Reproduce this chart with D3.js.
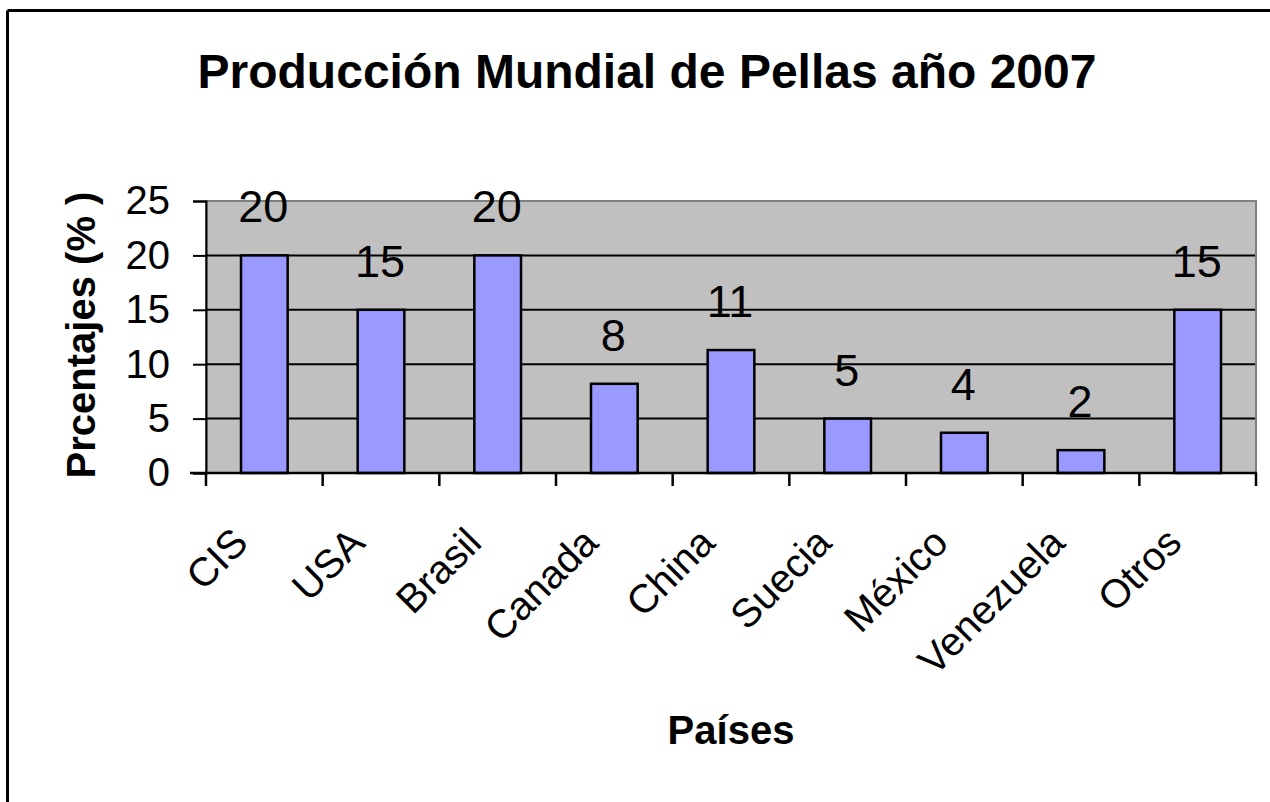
<!DOCTYPE html>
<html>
<head>
<meta charset="utf-8">
<script src="https://cdn.jsdelivr.net/npm/d3@7"></script>
<style>
  body { margin: 0; background: white; }
  text { font-family: Arial, "Liberation Sans", sans-serif; }
</style>
</head>
<body>
<script>
const width = 1270;
const height = 802;

// data
const paises = ["CIS", "USA", "Brasil", "Canada", "China", "Suecia", "México", "Venezuela", "Otros"];
const porcentajes = [20, 15, 20, 8.2, 11.3, 5, 3.7, 2.1, 15];
const yTicks = [0, 5, 10, 15, 20, 25];

const plot = { left: 206, right: 1256, top: 201, bottom: 473 };

const svg = d3
  .select("body")
  .append("svg")
  .attr("width", width)
  .attr("height", height);

svg.append("rect")
  .attr("width", width)
  .attr("height", height)
  .attr("fill", "white");

// outer chart border (only top and left are visible)
svg.append("line")
  .attr("x1", 7.5).attr("y1", 10.5)
  .attr("x2", width).attr("y2", 10.5)
  .attr("stroke", "black")
  .attr("stroke-width", 3);
svg.append("line")
  .attr("x1", 7.5).attr("y1", 10.5)
  .attr("x2", 7.5).attr("y2", height)
  .attr("stroke", "black")
  .attr("stroke-width", 3);

const x = d3.scaleBand()
  .domain(paises)
  .range([plot.left, plot.right])
  .paddingInner(0.6)
  .paddingOuter(0.3);

const xCat = d3.scaleBand()
  .domain(paises)
  .range([plot.left, plot.right])
  .padding(0);

const y = d3.scaleLinear()
  .domain([0, 25])
  .range([plot.bottom, plot.top]);

// plot area
svg.append("rect")
  .attr("x", plot.left)
  .attr("y", plot.top)
  .attr("width", plot.right - plot.left)
  .attr("height", plot.bottom - plot.top)
  .attr("fill", "#c0c0c0")
  .attr("stroke", "#808080")
  .attr("stroke-width", 2);

// gridlines
svg.append("g")
  .selectAll("line")
  .data(yTicks.filter(d => d > 0 && d < 25))
  .enter()
  .append("line")
  .attr("x1", plot.left)
  .attr("x2", plot.right - 1)
  .attr("y1", d => y(d))
  .attr("y2", d => y(d))
  .attr("stroke", "black")
  .attr("stroke-width", 2);

// y axis
const yAxis = svg.append("g")
  .attr("transform", `translate(${plot.left},0)`)
  .call(d3.axisLeft(y).tickValues(yTicks).tickSize(13).tickPadding(23));
yAxis.select(".domain").attr("stroke", "black").attr("stroke-width", 2);
yAxis.selectAll(".tick line").attr("stroke", "black").attr("stroke-width", 2);
yAxis.selectAll(".tick text")
  .attr("font-size", 40)
  .attr("font-family", "Arial, 'Liberation Sans', sans-serif")
  .attr("fill", "black");

// bars
svg.append("g")
  .selectAll("rect")
  .data(paises)
  .enter()
  .append("rect")
  .attr("x", d => x(d))
  .attr("y", (d, i) => y(porcentajes[i]))
  .attr("width", x.bandwidth())
  .attr("height", (d, i) => y(0) - y(porcentajes[i]))
  .attr("fill", "#9999ff")
  .attr("stroke", "black")
  .attr("stroke-width", 2.5);

// x axis with ticks on category boundaries
const xAxisG = svg.append("g")
  .attr("transform", `translate(0,${plot.bottom})`);
xAxisG.append("line")
  .attr("x1", plot.left - 16)
  .attr("x2", plot.right + 1)
  .attr("stroke", "black")
  .attr("stroke-width", 2.5);
xAxisG.selectAll(".tick")
  .data(paises.concat(["end"]))
  .enter()
  .append("line")
  .attr("class", "tick")
  .attr("x1", (d, i) => i < paises.length ? xCat(d) : plot.right)
  .attr("x2", (d, i) => i < paises.length ? xCat(d) : plot.right)
  .attr("y1", 0)
  .attr("y2", 13)
  .attr("stroke", "black")
  .attr("stroke-width", 2.5);

// rotated category labels
svg.append("g")
  .selectAll("text")
  .data(paises)
  .enter()
  .append("text")
  .attr("transform", d => `translate(${xCat(d) + xCat.bandwidth() / 2 - 24},535) rotate(-45)`)
  .attr("text-anchor", "end")
  .attr("dominant-baseline", "central")
  .attr("font-size", 40)
  .text(d => d);

// data labels
svg.append("g")
  .selectAll("text")
  .data(paises)
  .enter()
  .append("text")
  .attr("x", d => x(d) + x.bandwidth() / 2 - 1)
  .attr("y", (d, i) => y(porcentajes[i]) - 33)
  .attr("text-anchor", "middle")
  .attr("font-size", 45)
  .text((d, i) => d3.format(".0f")(porcentajes[i]));

// titles
svg.append("text")
  .attr("x", 647)
  .attr("y", 88)
  .attr("text-anchor", "middle")
  .attr("font-size", 48)
  .attr("font-weight", "bold")
  .text("Producción Mundial de Pellas año 2007");

svg.append("text")
  .attr("x", (plot.left + plot.right) / 2)
  .attr("y", 744)
  .attr("text-anchor", "middle")
  .attr("font-size", 40)
  .attr("font-weight", "bold")
  .text("Países");

svg.append("text")
  .attr("transform", "translate(95,335) rotate(-90)")
  .attr("text-anchor", "middle")
  .attr("font-size", 40)
  .attr("font-weight", "bold")
  .text("Prcentajes (% )");
</script>
</body>
</html>
